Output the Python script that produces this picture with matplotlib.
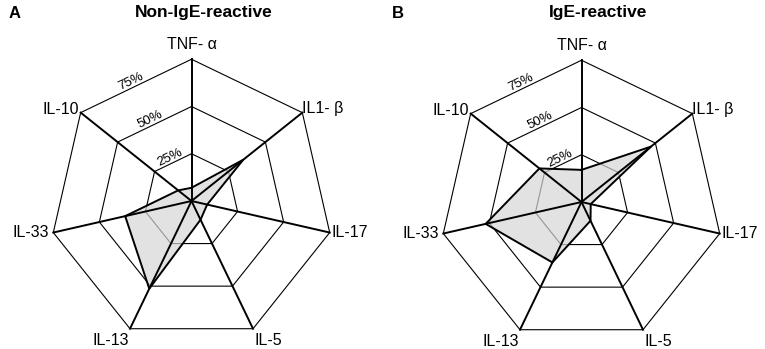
import numpy as np
import matplotlib.pyplot as plt

# cytokine axes, clockwise from the top
cytokines = ["TNF- α", "IL1- β", "IL-17", "IL-5", "IL-13", "IL-33", "IL-10"]
non_ige = [7, 35, 8.5, 11, 51.5, 36, 9]
ige = [17, 47, 5, 11, 35.5, 52, 28.5]
rings = [25, 50, 75]
ring_labels = ["25%", "50%", "75%"]

plt.rcParams['font.family'] = ['Liberation Sans', 'DejaVu Sans']

W, H = 765, 349
fig = plt.figure(figsize=(W / 100, H / 100), dpi=100)

n = len(cytokines)
angles = np.pi / 2 - np.arange(n) * 2 * np.pi / n
px_per_unit = 1.89

# label placement: (ha, va, dx, dy) in points
label_pos = [("center", "bottom", 0, 5),
             ("left", "center", 0, 3),
             ("left", "center", 1, 0),
             ("left", "top", 1, -3),
             ("right", "top", -1, -3),
             ("right", "center", -3, 0),
             ("right", "center", -1, 2)]


def radar(x0, x1, cx, cy, values, letter, title, title_x):
    ax = fig.add_axes([x0 / W, 0, (x1 - x0) / W, 1])
    ax.set_xlim(-(cx - x0) / px_per_unit, (x1 - cx) / px_per_unit)
    ax.set_ylim(-(H - cy) / px_per_unit, cy / px_per_unit)
    ax.axis("off")

    cosA, sinA = np.cos(angles), np.sin(angles)

    # grid rings
    for r in rings:
        xs = np.append(r * cosA, r * cosA[0])
        ys = np.append(r * sinA, r * sinA[0])
        ax.plot(xs, ys, color="black", lw=0.8, zorder=1)

    # data polygon fill
    v = np.array(values)
    ax.fill(v * cosA, v * sinA, color=(0.84, 0.84, 0.84), alpha=0.7, lw=0, zorder=2)

    # spokes
    outer = rings[-1]
    for a in angles:
        ax.plot([0, outer * np.cos(a)], [0, outer * np.sin(a)], color="black", lw=1.4, zorder=3)

    # data outline
    ax.plot(np.append(v * cosA, v[0] * cosA[0]), np.append(v * sinA, v[0] * sinA[0]),
            color="black", lw=1.4, zorder=4)

    # ring percentage labels along edge TNF -> IL-10
    for r, lab in zip(rings, ring_labels):
        p0 = np.array([r * cosA[0], r * sinA[0]])
        p1 = np.array([r * cosA[-1], r * sinA[-1]])
        p = p0 + 0.52 * (p1 - p0)
        rot = np.degrees(np.arctan2(p0[1] - p1[1], p0[0] - p1[0]))
        ax.text(p[0], p[1], lab, rotation=rot, rotation_mode="anchor",
                ha="center", va="bottom", fontsize=9.5, zorder=5)

    # axis labels
    for k, name in enumerate(cytokines):
        ha, va, dx, dy = label_pos[k]
        ax.annotate(name, (outer * cosA[k], outer * sinA[k]), xytext=(dx, dy),
                    textcoords="offset points", ha=ha, va=va, fontsize=11.5)

    fig.text((x0 + 15) / W, 1 - 13 / H, letter, fontsize=12, fontweight="bold",
             ha="center", va="center")
    fig.text(title_x / W, 1 - 13 / H, title, fontsize=12.5, fontweight="bold",
             ha="center", va="center")


radar(0, 382.5, 191.5, 201, non_ige, "A", "Non-IgE-reactive", 204)
radar(382.5, 765, 581.5, 202, ige, "B", "IgE-reactive", 598)

fig.savefig("out.png", dpi=100)
